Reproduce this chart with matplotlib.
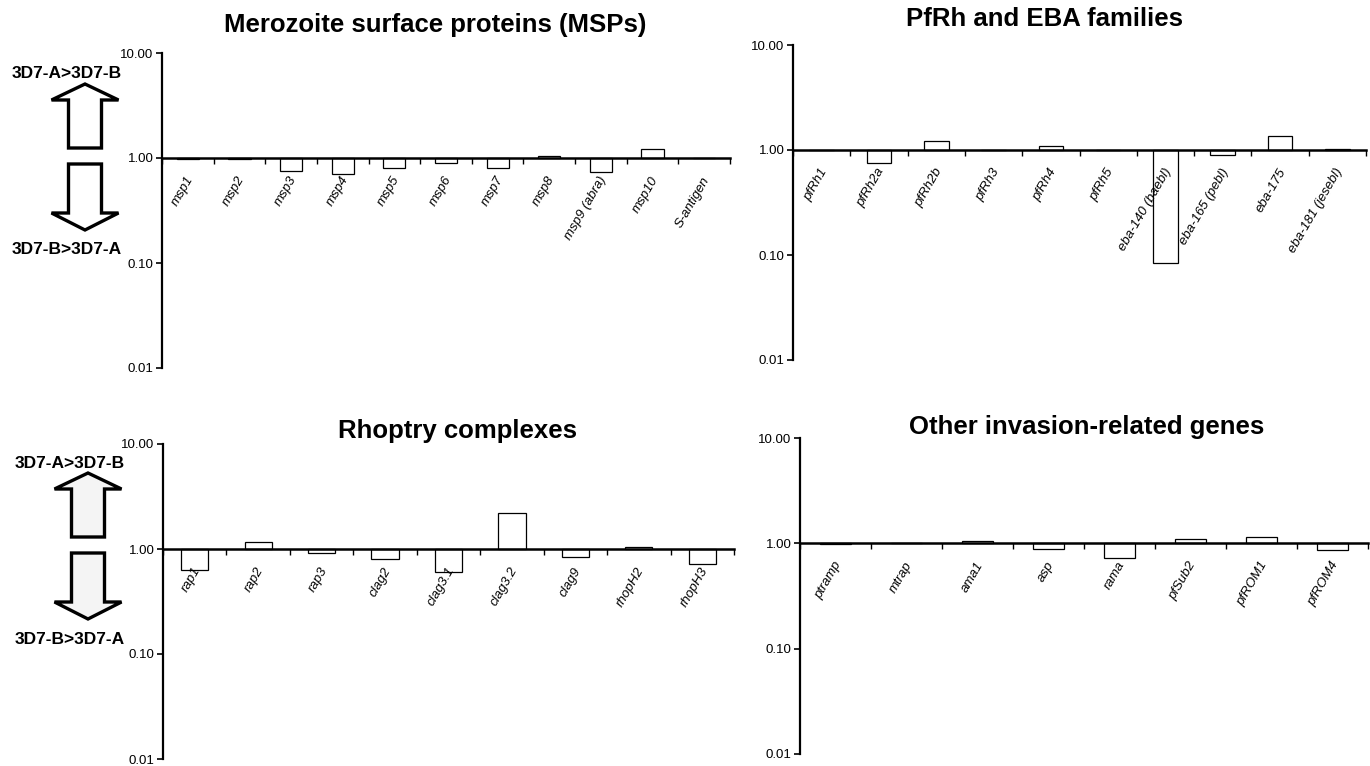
import numpy as np
import matplotlib.pyplot as plt
from matplotlib.patches import Polygon

plt.rcParams['font.family'] = ['Liberation Sans', 'DejaVu Sans']

W, H = 1370, 766

# data: fold change 3D7-A / 3D7-B
msp_genes = ['msp1', 'msp2', 'msp3', 'msp4', 'msp5', 'msp6', 'msp7', 'msp8',
             'msp9 (abra)', 'msp10', 'S-antigen']
msp_vals = [0.97, 0.98, 0.76, 0.70, 0.80, 0.90, 0.80, 1.05, 0.74, 1.22, 1.01]

pfrh_genes = ['pfRh1', 'pfRh2a', 'pfRh2b', 'pfRh3', 'pfRh4', 'pfRh5',
              'eba-140 (baebl)', 'eba-165 (pebl)', 'eba-175', 'eba-181 (jesebl)']
pfrh_vals = [0.99, 0.76, 1.23, 1.01, 1.08, 1.01, 0.083, 0.90, 1.37, 1.02]

rhop_genes = ['rap1', 'rap2', 'rap3', 'clag2', 'clag3.1', 'clag3.2', 'clag9',
              'rhopH2', 'rhopH3']
rhop_vals = [0.63, 1.16, 0.91, 0.81, 0.60, 2.2, 0.83, 1.05, 0.72]

other_genes = ['ptramp', 'mtrap', 'ama1', 'asp', 'rama', 'pfSub2', 'pfROM1', 'pfROM4']
other_vals = [0.99, 1.01, 1.06, 0.88, 0.72, 1.10, 1.14, 0.87]

titles = ['Merozoite surface proteins (MSPs)', 'PfRh and EBA families',
          'Rhoptry complexes', 'Other invasion-related genes']


def px_rect(x0, y0, x1, y1):
    # pixel box (top-left origin) -> figure fraction rect
    return [x0 / W, 1 - y1 / H, (x1 - x0) / W, (y1 - y0) / H]


def panel(fig, rect, genes, vals, title, title_xy):
    ax = fig.add_axes(rect)
    x = np.arange(len(genes))
    v = np.array(vals)
    ax.bar(x, v - 1, bottom=1, width=0.43, color='white', edgecolor='black',
           linewidth=0.9, zorder=2)
    ax.set_yscale('log')
    ax.set_ylim(0.01, 10)
    ax.set_xlim(-0.5, len(genes) - 0.5)
    ax.set_yticks([0.01, 0.1, 1, 10])
    ax.set_yticklabels(['0.01', '0.10', '1.00', '10.00'], fontsize=9.5)
    ax.yaxis.set_minor_locator(plt.NullLocator())
    ax.tick_params(axis='y', direction='out', length=4, width=1.2, pad=2)
    ax.set_xticks(np.arange(len(genes) + 1) - 0.5)
    ax.set_xticklabels([])
    ax.tick_params(axis='x', direction='out', length=4, width=1.0)
    ax.spines['top'].set_visible(False)
    ax.spines['right'].set_visible(False)
    ax.spines['bottom'].set_position(('data', 1))
    ax.spines['bottom'].set_linewidth(1.8)
    ax.spines['left'].set_linewidth(1.6)
    ax.patch.set_alpha(0)
    for i, g in enumerate(genes):
        ax.annotate(g, xy=(i, 1), xytext=(2, -14), textcoords='offset points',
                    rotation=60, ha='right', va='center', rotation_mode='anchor',
                    fontsize=9.5, style='italic')
    fig.text(title_xy[0] / W, 1 - title_xy[1] / H, title, ha='center',
             va='center', fontsize=18.5, fontweight='bold')
    return ax


def block_arrow(fig, cx, y_tail, y_head, y_tip, shaft_w, head_w, fc):
    pts = [(cx - shaft_w / 2, y_tail), (cx - shaft_w / 2, y_head),
           (cx - head_w / 2, y_head), (cx, y_tip), (cx + head_w / 2, y_head),
           (cx + shaft_w / 2, y_head), (cx + shaft_w / 2, y_tail)]
    pts = [(px / W, 1 - py / H) for px, py in pts]
    fig.patches.append(Polygon(pts, closed=True, transform=fig.transFigure,
                               facecolor=fc, edgecolor='black', linewidth=2.4,
                               joinstyle='miter'))


def side_key(fig, cx, top, fc):
    # up/down arrows with labels, top = y of upper label
    fig.text(cx / W, 1 - top / H, '3D7-A>3D7-B', ha='center', va='center',
             fontsize=12.5, fontweight='bold')
    block_arrow(fig, cx + 18, top + 74, top + 26, top + 10, 33, 67, fc)
    block_arrow(fig, cx + 18, top + 90, top + 139, top + 156, 33, 67, fc)
    fig.text(cx / W, 1 - (top + 176) / H, '3D7-B>3D7-A', ha='center',
             va='center', fontsize=12.5, fontweight='bold')


fig = plt.figure(figsize=(W / 100, H / 100), dpi=100)

panel(fig, px_rect(162, 53, 730, 368), msp_genes, msp_vals, titles[0], (435, 25))
panel(fig, px_rect(793, 45, 1366, 360), pfrh_genes, pfrh_vals, titles[1], (1045, 19))
panel(fig, px_rect(163, 444, 734, 759), rhop_genes, rhop_vals, titles[2], (458, 431))
panel(fig, px_rect(800, 438, 1368, 754), other_genes, other_vals, titles[3], (1087, 427))

side_key(fig, 67, 74, 'white')
side_key(fig, 70, 463, '#f4f4f4')

fig.savefig('out.png', dpi=100)
